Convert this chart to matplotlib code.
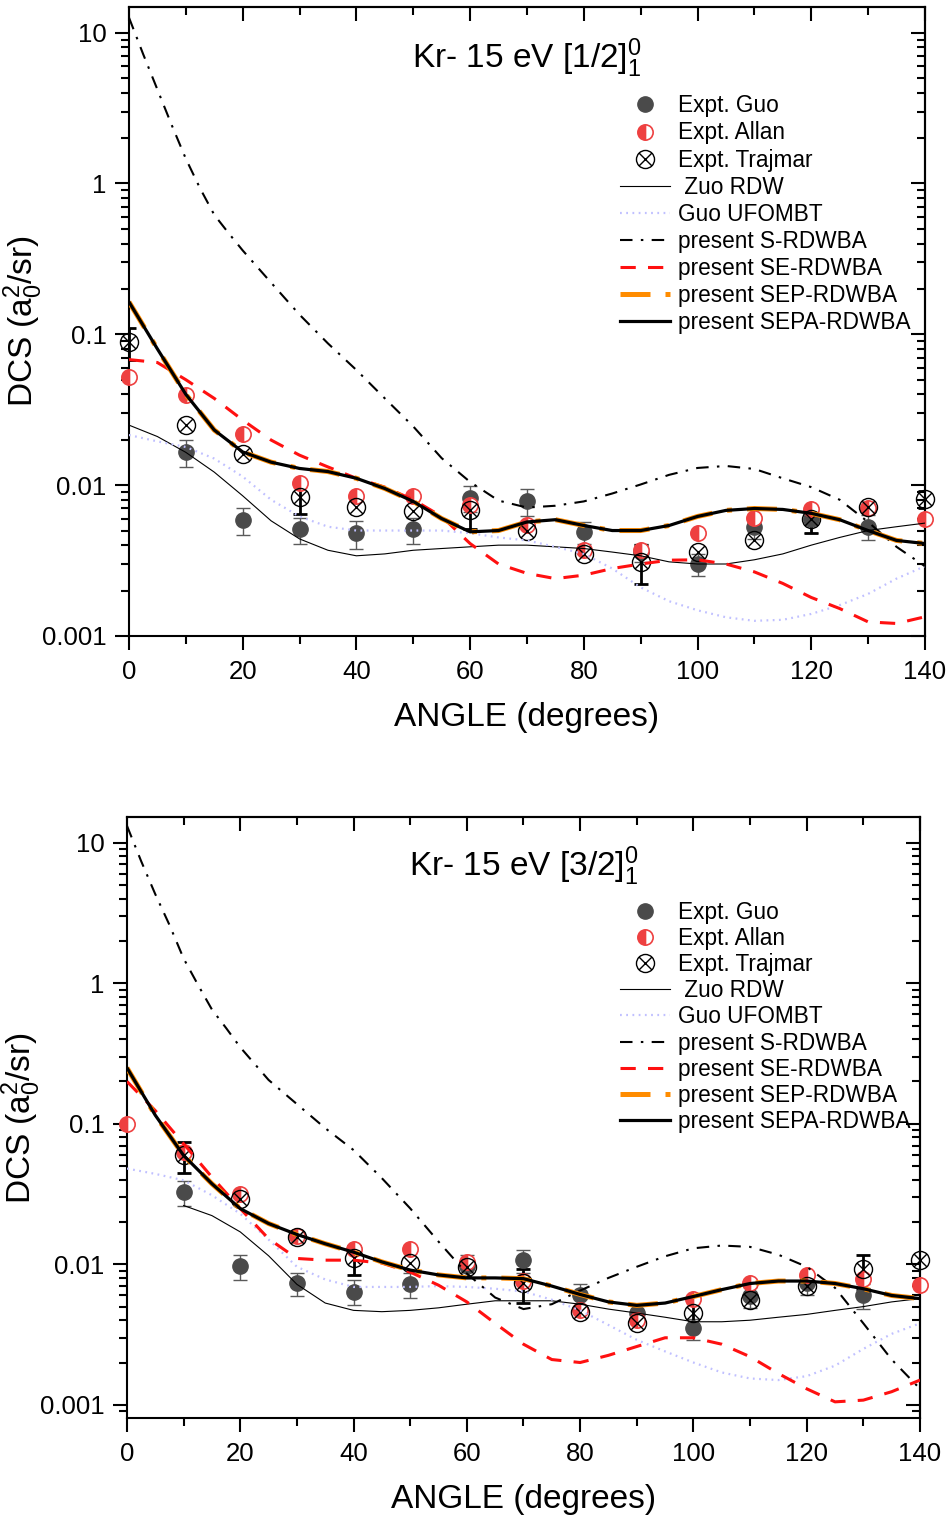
import numpy as np
import matplotlib
matplotlib.use('Agg')
import matplotlib.pyplot as plt
from matplotlib.path import Path
from matplotlib.ticker import LogLocator, MultipleLocator, FuncFormatter, NullFormatter

plt.rcParams['font.family'] = ['Liberation Sans', 'DejaVu Sans']
plt.rcParams['mathtext.fontset'] = 'custom'
plt.rcParams['mathtext.rm'] = 'Liberation Sans'
plt.rcParams['mathtext.it'] = 'Liberation Sans:italic'
plt.rcParams['mathtext.bf'] = 'Liberation Sans:bold'

nan = np.nan

# angles
ang_expt = [0, 10, 20, 30, 40, 50, 60, 70, 80, 90, 100, 110, 120, 130, 140]
ang_th = [0, 5, 10, 15, 20, 25, 30, 35, 40, 45, 50, 55, 60, 65, 70, 75, 80,
          85, 90, 95, 100, 105, 110, 115, 120, 125, 130, 135, 140]
ang_s = [0, 2.5, 5, 7.5, 10, 12.5, 15, 17.5, 20, 25, 30, 35, 40, 45, 50, 55,
         60, 65, 70, 75, 80, 85, 90, 95, 100, 105, 110, 115, 120, 125, 130,
         135, 140]

# ---- [1/2]_1^0 ----
guo1 = [nan, 0.0166, 0.0059, 0.0051, 0.0048, 0.0051, 0.0082, 0.0078, 0.0049,
        0.0036, 0.0030, 0.0053, 0.0060, 0.0053, nan]
guo1_err = [nan, 0.0034, 0.0012, 0.0010, 0.0010, 0.0010, 0.0016, 0.0016,
            0.0008, 0.0005, 0.0005, 0.0009, 0.0012, 0.0010, nan]
allan1 = [0.052, 0.0396, 0.0217, 0.0103, 0.0085, 0.0085, 0.0074, 0.0054,
          0.0037, 0.0037, 0.0048, 0.0061, 0.0069, 0.0071, 0.0060]
trajmar1 = [0.089, 0.025, 0.0162, 0.0083, 0.0072, 0.0067, 0.0068, 0.0050,
            0.0035, 0.0031, 0.0036, 0.0043, 0.0060, 0.0072, 0.0081]
trajmar1_err = [0.021, nan, nan, 0.0019, nan, nan, 0.0017, nan, nan, 0.0009,
                nan, nan, 0.0012, nan, 0.0010]
zuo1 = [0.025, 0.021, 0.0165, 0.0122, 0.0085, 0.0058, 0.0044, 0.0037, 0.0034,
        0.0035, 0.0037, 0.0038, 0.0039, 0.0040, 0.0040, 0.0039, 0.0038, 0.0036,
        0.0034, 0.0031, 0.0030, 0.0030, 0.0032, 0.0035, 0.0040, 0.0045,
        0.0050, 0.0053, 0.0056]
guou1 = [0.0215, 0.0195, 0.0179, 0.0150, 0.0114, 0.0080, 0.0062, 0.0053,
         0.0050, 0.0050, 0.0050, 0.0050, 0.0048, 0.0045, 0.0043, 0.0039,
         0.0035, 0.0028, 0.0021, 0.0017, 0.00148, 0.00133, 0.00126, 0.00128,
         0.0014, 0.0016, 0.0019, 0.0024, 0.0029]
s1 = [12.6, 7.2, 4.2, 2.45, 1.46, 0.93, 0.62, 0.47, 0.36, 0.22, 0.135, 0.087,
      0.058, 0.0376, 0.0245, 0.0151, 0.0105, 0.0079, 0.0071, 0.0073, 0.0078,
      0.0088, 0.0101, 0.0117, 0.0130, 0.0134, 0.0128, 0.0111, 0.0097, 0.0080,
      0.0057, 0.0039, 0.0029]
se1 = [0.068, 0.065, 0.050, 0.0376, 0.027, 0.0199, 0.0158, 0.0132, 0.0111,
       0.0097, 0.0080, 0.0062, 0.0041, 0.0030, 0.0026, 0.0024, 0.00253,
       0.0028, 0.0030, 0.00318, 0.0032, 0.0030, 0.00266, 0.00223, 0.0018,
       0.00152, 0.00124, 0.00121, 0.00134]
sep1 = [0.164, 0.080, 0.040, 0.0232, 0.0166, 0.0142, 0.0129, 0.0123, 0.0111,
        0.0095, 0.0078, 0.0060, 0.0049, 0.0050, 0.0057, 0.0059, 0.0054,
        0.0050, 0.0050, 0.0054, 0.0062, 0.0068, 0.0070, 0.0069, 0.0065,
        0.0059, 0.0050, 0.0043, 0.0041]
sepa1 = [0.164, 0.080, 0.040, 0.0232, 0.0166, 0.0142, 0.0129, 0.0123, 0.0111,
         0.0095, 0.0078, 0.0060, 0.0049, 0.0050, 0.0057, 0.0059, 0.0054,
         0.0050, 0.0050, 0.0054, 0.0062, 0.0068, 0.0070, 0.0069, 0.0065,
         0.0059, 0.0050, 0.0043, 0.0041]

# ---- [3/2]_1^0 ----
guo2 = [nan, 0.0327, 0.0097, 0.0073, 0.0064, 0.0072, 0.0098, 0.0107, 0.0060,
        0.0045, 0.0035, 0.0059, 0.0073, 0.0060, nan]
guo2_err = [nan, 0.0066, 0.0020, 0.0014, 0.0013, 0.0014, 0.0018, 0.0020,
            0.0012, 0.0007, 0.0006, 0.0010, 0.0013, 0.0012, nan]
allan2 = [0.100, 0.063, 0.0318, 0.0158, 0.0129, 0.0129, 0.0104, 0.0076,
          0.0047, 0.0040, 0.0057, 0.0074, 0.0084, 0.0078, 0.0071]
trajmar2 = [nan, 0.0595, 0.0293, 0.0156, 0.0110, 0.0102, 0.0096, 0.0073,
            0.0046, 0.0038, 0.0045, 0.0056, 0.0070, 0.0092, 0.0107]
trajmar2_err = [nan, 0.015, nan, nan, 0.0026, nan, nan, 0.0020, nan, nan,
                0.0010, nan, nan, 0.0025, nan]
zuo2 = [nan, nan, 0.0262, 0.0222, 0.0170, 0.0115, 0.0072, 0.0053, 0.0047,
        0.0046, 0.0047, 0.0049, 0.0052, 0.0055, 0.0055, 0.0055, 0.0052,
        0.0048, 0.0045, 0.0042, 0.0039, 0.0039, 0.0040, 0.0042, 0.0044,
        0.0047, 0.0050, 0.0054, 0.0057]
guou2 = [0.048, 0.044, 0.0396, 0.031, 0.0229, 0.0150, 0.0096, 0.0078, 0.0069,
         0.0069, 0.0069, 0.0070, 0.0069, 0.0067, 0.0064, 0.0056, 0.0047,
         0.0037, 0.0029, 0.0024, 0.0020, 0.0017, 0.00154, 0.0015, 0.0016,
         0.0019, 0.0025, 0.0032, 0.0038]
s2 = [13.2, 7.4, 4.3, 2.6, 1.5, 0.98, 0.65, 0.48, 0.35, 0.205, 0.138, 0.093,
      0.065, 0.041, 0.025, 0.0145, 0.0086, 0.0058, 0.0048, 0.0052, 0.0065,
      0.0080, 0.0096, 0.0114, 0.0130, 0.0136, 0.0133, 0.0117, 0.0096, 0.0068,
      0.0038, 0.0021, 0.0013]
se2 = [0.20, 0.124, 0.072, 0.0417, 0.0249, 0.0152, 0.0110, 0.0107, 0.0107,
       0.0102, 0.0088, 0.0071, 0.0054, 0.0038, 0.0027, 0.0021, 0.0020,
       0.00225, 0.0026, 0.0030, 0.0030, 0.0027, 0.0022, 0.00167, 0.0013,
       0.00105, 0.00108, 0.00124, 0.0015]
sep2 = [0.25, 0.115, 0.0595, 0.0374, 0.0249, 0.0195, 0.0163, 0.0140, 0.0122,
        0.0104, 0.0091, 0.0084, 0.0080, 0.0080, 0.0079, 0.0070, 0.0061,
        0.0054, 0.0051, 0.0053, 0.0059, 0.0066, 0.0073, 0.0076, 0.0076,
        0.0073, 0.0067, 0.0060, 0.0057]
sepa2 = [0.25, 0.115, 0.0595, 0.0374, 0.0249, 0.0195, 0.0163, 0.0140, 0.0122,
         0.0104, 0.0091, 0.0084, 0.0080, 0.0080, 0.0079, 0.0070, 0.0061,
         0.0054, 0.0051, 0.0053, 0.0059, 0.0066, 0.0073, 0.0076, 0.0076,
         0.0073, 0.0067, 0.0060, 0.0057]

labels = ['Expt. Guo', 'Expt. Allan', 'Expt. Trajmar', ' Zuo RDW',
          'Guo UFOMBT', 'present S-RDWBA', 'present SE-RDWBA',
          'present SEP-RDWBA', 'present SEPA-RDWBA']

# circle with a cross for Trajmar
k = 0.7071
cross = Path([[-k, -k], [k, k], [-k, k], [k, -k]],
             [Path.MOVETO, Path.LINETO, Path.MOVETO, Path.LINETO])
otimes = Path.make_compound_path(Path.unit_circle(), cross)


def panel(ax, guo, guo_err, allan, trajmar, trajmar_err, zuo, guou, s, se,
          sep, sepa, title, ylim, leg_xy, leg_sp):
    ax.set_yscale('log')
    ax.errorbar(ang_expt, guo, yerr=guo_err, fmt='none', ecolor='#5a5a5a',
                elinewidth=1, capsize=5, capthick=1, zorder=2)
    ax.errorbar(ang_expt, trajmar, yerr=trajmar_err, fmt='none',
                ecolor='black', elinewidth=2, capsize=5, capthick=2, zorder=2)
    h = []
    h += ax.plot(ang_expt, guo, 'o', ms=11, color='#4a4a4a', ls='none',
                 zorder=3, clip_on=False)
    h += ax.plot(ang_expt, allan, 'o', ms=11, mfc='#ee4040',
                 markerfacecoloralt='white', mec='#ee4040', mew=1.2,
                 fillstyle='left', ls='none', zorder=3, clip_on=False)
    h += ax.plot(ang_expt, trajmar, marker=otimes, ms=13, mfc='none',
                 mec='black', mew=1, ls='none', zorder=3, clip_on=False)
    h += ax.plot(ang_th, zuo, color='black', lw=0.8, zorder=4)
    h += ax.plot(ang_th, guou, color='#c0c0ff', lw=1.6, ls=(0, (0.8, 2)),
                 zorder=4)
    h += ax.plot(ang_s, s, color='black', lw=1.5, ls=(0, (6, 4, 1.2, 4)),
                 zorder=4)
    h += ax.plot(ang_th, se, color='#ff1010', lw=2.2, ls=(0, (5, 4)),
                 zorder=4)
    h += ax.plot(ang_th, sep, color='#ff8c00', lw=3.6, ls=(0, (6, 3, 1, 3)),
                 zorder=5)
    h += ax.plot(ang_th, sepa, color='black', lw=2.3, zorder=6)

    ax.set_xlim(0, 140)
    ax.set_ylim(*ylim)
    ax.xaxis.set_major_locator(MultipleLocator(20))
    ax.xaxis.set_minor_locator(MultipleLocator(10))
    ax.yaxis.set_major_locator(LogLocator(base=10, numticks=10))
    ax.yaxis.set_minor_locator(LogLocator(base=10, subs=range(2, 10),
                                          numticks=20))
    ax.yaxis.set_major_formatter(FuncFormatter(lambda v, p: '%g' % v))
    ax.yaxis.set_minor_formatter(NullFormatter())
    ax.tick_params(which='both', direction='out', width=1.5, labelsize=18.5,
                   top=False, right=False)
    ax.tick_params(which='major', length=10)
    ax.tick_params(which='minor', length=6)
    ax.tick_params(axis='y', pad=6)
    ax.tick_params(axis='x', pad=7)
    for sp in ax.spines.values():
        sp.set_linewidth(1.5)

    # mirrored ticks on top and right, pointing inward
    secx = ax.secondary_xaxis('top')
    secx.xaxis.set_major_locator(MultipleLocator(20))
    secx.xaxis.set_minor_locator(MultipleLocator(10))
    secx.tick_params(which='both', direction='in', width=1.5,
                     labeltop=False)
    secx.tick_params(which='major', length=10)
    secx.tick_params(which='minor', length=6)
    secx.spines['top'].set_linewidth(1.5)
    secy = ax.secondary_yaxis('right')
    secy.yaxis.set_major_locator(LogLocator(base=10, numticks=10))
    secy.yaxis.set_minor_locator(LogLocator(base=10, subs=range(2, 10),
                                            numticks=20))
    secy.tick_params(which='both', direction='in', width=1.5,
                     labelright=False)
    secy.tick_params(which='major', length=10)
    secy.tick_params(which='minor', length=6)
    secy.spines['right'].set_linewidth(1.5)

    ax.set_xlabel('ANGLE (degrees)', fontsize=24, labelpad=13)
    ax.set_ylabel('DCS (a$_0^2$/sr)', fontsize=24, labelpad=-2)
    ax.text(0.5, 0.918, title, transform=ax.transAxes, ha='center',
            va='center', fontsize=24)
    ax.legend(h, labels, loc='upper left', bbox_to_anchor=leg_xy,
              frameon=False, fontsize=16.3, handlelength=2.2,
              handletextpad=0.35, labelspacing=leg_sp, borderpad=0,
              borderaxespad=0)


fig = plt.figure(figsize=(9.51, 15.16), dpi=100)
ax1 = fig.add_axes([0.1356, 0.5805, 0.8370, 0.4149])
ax2 = fig.add_axes([0.1335, 0.0646, 0.8339, 0.3964])

panel(ax1, guo1, guo1_err, allan1, trajmar1, trajmar1_err, zuo1, guou1, s1,
      se1, sep1, sepa1, r'Kr- 15 eV [1/2]$_1^0$', (0.001, 14.8),
      (0.617, 0.861), 0.18)
panel(ax2, guo2, guo2_err, allan2, trajmar2, trajmar2_err, zuo2, guou2, s2,
      se2, sep2, sepa2, r'Kr- 15 eV [3/2]$_1^0$', (0.000805, 15.2),
      (0.622, 0.861), 0.14)

fig.savefig('out.png', dpi=100)
